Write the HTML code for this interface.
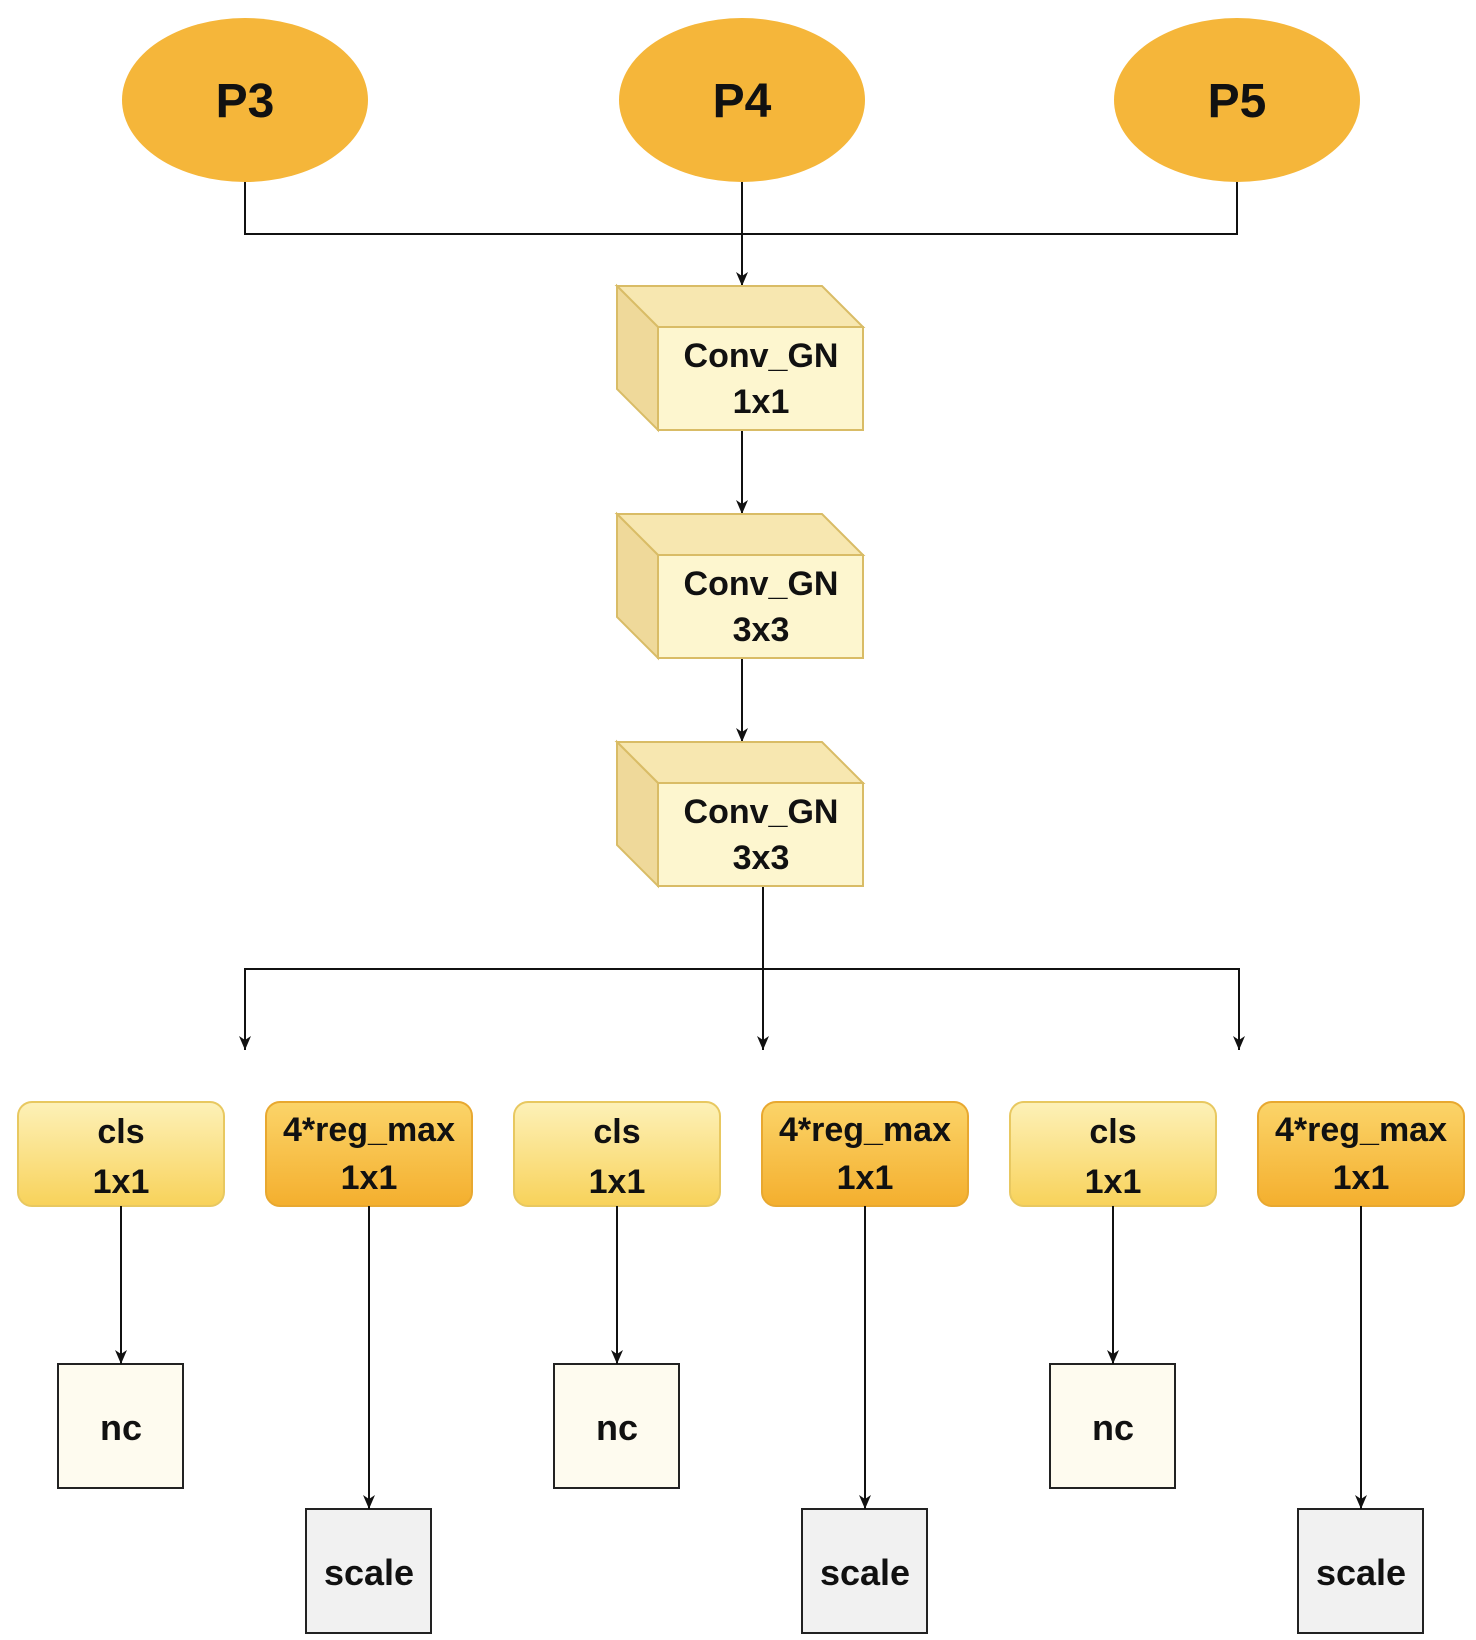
<!DOCTYPE html>
<html><head><meta charset="utf-8"><style>
body{margin:0;background:#fff}
svg text{font-family:"Liberation Sans",Arial,sans-serif;font-weight:bold;fill:#111;text-anchor:middle}
</style></head><body>
<svg width="1476" height="1635" viewBox="0 0 1476 1635" xmlns="http://www.w3.org/2000/svg">
<defs>
<marker id="a" markerWidth="14" markerHeight="12" refX="14" refY="6" orient="auto-start-reverse" markerUnits="userSpaceOnUse" viewBox="0 0 14 12">
<path d="M0,0 L14,6 L0,12 L4,6 Z" fill="#111"/></marker>
<linearGradient id="gc" x1="0" y1="0" x2="0" y2="1"><stop offset="0" stop-color="#fdf1b8"/><stop offset="1" stop-color="#f8d25a"/></linearGradient>
<linearGradient id="gr" x1="0" y1="0" x2="0" y2="1"><stop offset="0" stop-color="#fbd469"/><stop offset="1" stop-color="#f4af2e"/></linearGradient>
<g id="cube">
<polygon points="617,286 822,286 863,327 658,327" fill="#f7e7b0" stroke="#d9bc66" stroke-width="2"/>
<polygon points="617,286 658,327 658,430 617,389" fill="#efd99a" stroke="#d9bc66" stroke-width="2"/>
<rect x="658" y="327" width="205" height="103" fill="#fdf6cf" stroke="#d9bc66" stroke-width="2"/>
</g>
</defs>
<g fill="#f5b63a">
<ellipse cx="245" cy="100" rx="123" ry="82"/>
<ellipse cx="742" cy="100" rx="123" ry="82"/>
<ellipse cx="1237" cy="100" rx="123" ry="82"/>
</g>
<text x="245" y="117" font-size="48">P3</text>
<text x="742" y="117" font-size="48">P4</text>
<text x="1237" y="117" font-size="48">P5</text>
<g stroke="#111" stroke-width="2" fill="none">
<polyline points="245,182 245,234 1237,234 1237,182"/>
<line x1="742" y1="182" x2="742" y2="286" marker-end="url(#a)"/>
<line x1="742" y1="430" x2="742" y2="514" marker-end="url(#a)"/>
<line x1="742" y1="658" x2="742" y2="742" marker-end="url(#a)"/>
<line x1="763" y1="886" x2="763" y2="1050" marker-end="url(#a)"/>
<polyline points="245,1050 245,969 1239,969 1239,1050" marker-start="url(#a)" marker-end="url(#a)"/>
</g>
<use href="#cube"/>
<use href="#cube" transform="translate(0,228)"/>
<use href="#cube" transform="translate(0,456)"/>
<g font-size="34">
<text x="761" y="367">Conv_GN</text><text x="761" y="413">1x1</text>
<text x="761" y="595">Conv_GN</text><text x="761" y="641">3x3</text>
<text x="761" y="823">Conv_GN</text><text x="761" y="869">3x3</text>
</g>
<g id="col">
<rect x="18" y="1102" width="206" height="104" rx="14" fill="url(#gc)" stroke="#e8c860" stroke-width="2"/>
<rect x="266" y="1102" width="206" height="104" rx="14" fill="url(#gr)" stroke="#e8a830" stroke-width="2"/>
<rect x="58" y="1364" width="125" height="124" fill="#fefbef" stroke="#222" stroke-width="2"/>
<rect x="306" y="1509" width="125" height="124" fill="#f1f1f1" stroke="#222" stroke-width="2"/>
<g stroke="#111" stroke-width="2">
<line x1="121" y1="1206" x2="121" y2="1364" marker-end="url(#a)"/>
<line x1="369" y1="1206" x2="369" y2="1509" marker-end="url(#a)"/>
</g>
<g font-size="34">
<text x="121" y="1143">cls</text><text x="121" y="1193">1x1</text>
<text x="369" y="1141">4*reg_max</text><text x="369" y="1189">1x1</text>
<text x="121" y="1440" font-size="36">nc</text>
<text x="369" y="1585" font-size="36">scale</text>
</g>
</g>
<use href="#col" transform="translate(496,0)"/>
<use href="#col" transform="translate(992,0)"/>
</svg>
</body></html>
